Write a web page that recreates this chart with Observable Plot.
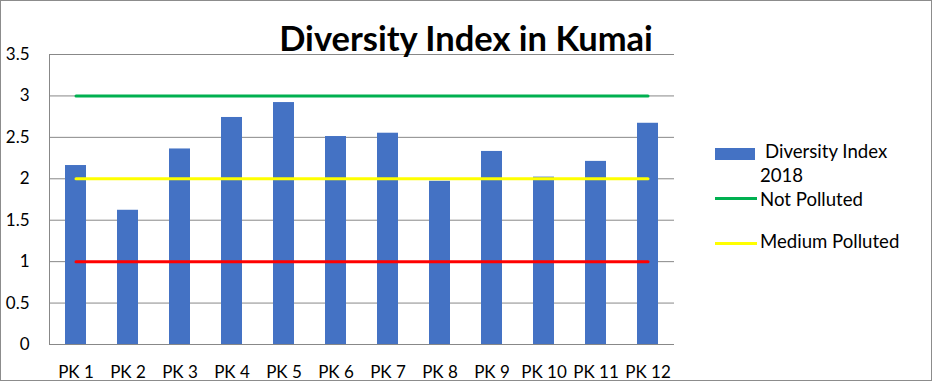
<!DOCTYPE html>
<html>
<head>
<meta charset="utf-8">
<script src="https://cdn.jsdelivr.net/npm/d3@7"></script>
<script src="https://cdn.jsdelivr.net/npm/@observablehq/plot@0.6"></script>
<style>
  body { margin: 0; background: #fff; }
  #wrap { position: relative; width: 932px; height: 381px; font-family: Lato, "Open Sans", sans-serif; color: #000; overflow: hidden; }
  #wrap svg { position: absolute; left: 0; top: 0; }
  #border { position: absolute; left: 0; top: 0; width: 932px; height: 381px; box-sizing: border-box; border: 1px solid #8c8c8c; pointer-events: none; }
  .t { position: absolute; line-height: 1; white-space: nowrap; }
  #title { left: 0; width: 932px; text-align: center; top: 21px; font-size: 34.5px; font-weight: bold; }
  .lg { font-size: 18.6px; }
  .sw { position: absolute; }
</style>
</head>
<body>
<div id="wrap">
  <div id="title" class="t">Diversity Index in Kumai</div>
  <div class="sw" style="left:715px;top:148px;width:40px;height:12px;background:#4472C4"></div>
  <div class="t lg" style="left:765px;top:142px">Diversity Index</div>
  <div class="t lg" style="left:760px;top:166px">2018</div>
  <div class="sw" style="left:715px;top:197px;width:42px;height:3px;background:#00B050"></div>
  <div class="t lg" style="left:760px;top:190px">Not Polluted</div>
  <div class="sw" style="left:715px;top:242px;width:42px;height:3px;background:#FFFF00"></div>
  <div class="t lg" style="left:760px;top:232px">Medium Polluted</div>
  <div id="border"></div>
</div>
<script>
const categories = ["PK 1","PK 2","PK 3","PK 4","PK 5","PK 6","PK 7","PK 8","PK 9","PK 10","PK 11","PK 12"];
const diversity2018 = [2.16, 1.62, 2.36, 2.74, 2.92, 2.51, 2.55, 1.97, 2.33, 2.02, 2.21, 2.67];
const notPolluted = [3,3,3,3,3,3,3,3,3,3,3,3];
const mediumPolluted = [2,2,2,2,2,2,2,2,2,2,2,2];
const polluted = [1,1,1,1,1,1,1,1,1,1,1,1];
const yTicks = [0, 0.5, 1, 1.5, 2, 2.5, 3, 3.5];

const rows = categories.map((c, i) => ({cat: c, v: diversity2018[i], np: notPolluted[i], mp: mediumPolluted[i], p: polluted[i]}));

const chart = Plot.plot({
  width: 932,
  height: 381,
  marginLeft: 49,
  marginRight: 258,
  marginTop: 54,
  marginBottom: 37,
  style: {fontFamily: "Lato, 'Open Sans', sans-serif", fontSize: "17px", color: "#000", background: "transparent"},
  x: {domain: categories, paddingInner: 0.6, paddingOuter: 0.3, label: null},
  y: {domain: [0, 3.5], label: null},
  marks: [
    Plot.ruleY(yTicks, {stroke: "#888", strokeWidth: 1}),
    Plot.frame({anchor: "left", stroke: "#888"}),
    Plot.barY(rows, {x: "cat", y: "v", fill: "#4472C4"}),
    Plot.line(rows, {x: "cat", y: "np", stroke: "#00B050", strokeWidth: 3}),
    Plot.line(rows, {x: "cat", y: "mp", stroke: "#FFFF00", strokeWidth: 3}),
    Plot.line(rows, {x: "cat", y: "p", stroke: "#FF0000", strokeWidth: 3}),
    Plot.axisY(yTicks, {tickSize: 0, tickPadding: 20, tickFormat: d => String(d), fontSize: 17, label: null}),
    Plot.axisX(categories, {tickSize: 0, tickPadding: 21, fontSize: 17, label: null})
  ]
});
document.getElementById("wrap").insertBefore(chart, document.getElementById("wrap").firstChild);
</script>
</body>
</html>
